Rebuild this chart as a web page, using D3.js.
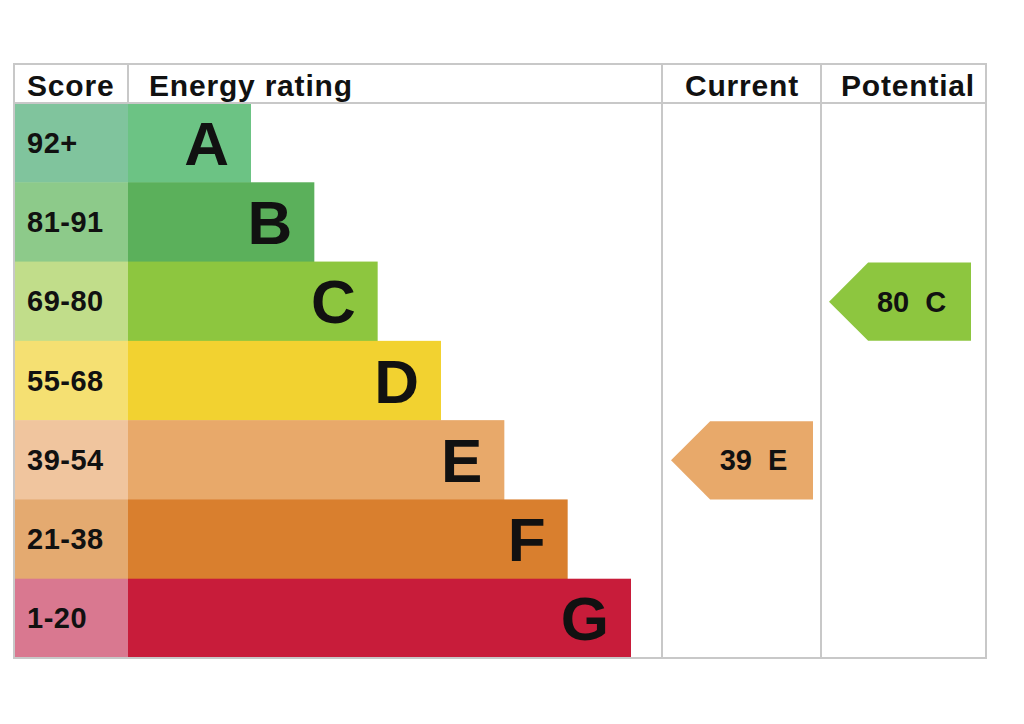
<!DOCTYPE html>
<html>
<head>
<meta charset="utf-8">
<script src="https://cdn.jsdelivr.net/npm/d3@7"></script>
<style>
  body { margin: 0; background: #fff; }
  text { font-family: "Liberation Sans", Arial, sans-serif; font-weight: bold; fill: #111; }
</style>
</head>
<body>
<script>
// Chart data
var ratings = ["A", "B", "C", "D", "E", "F", "G"];
var scoreLabels = ["92+", "81-91", "69-80", "55-68", "39-54", "21-38", "1-20"];
var scoreMins = [92, 81, 69, 55, 39, 21, 1];
var barColors = ["#6cc384", "#5bb05b", "#8dc63f", "#f2d230", "#e8a96a", "#d97f2e", "#c81c3a"];
var scoreColors = ["#80c49d", "#8dca8a", "#c1dd8a", "#f5e072", "#f0c59e", "#e4aa70", "#d97890"];
var currentScore = 39;
var potentialScore = 80;

// Chart params
var svgWidth = 1024;
var svgHeight = 724;

var box = { left: 14, top: 64, right: 986, bottom: 658 };
var headerBottom = 103;
var colScore = 128, colCurrent = 662, colPotential = 821;

var svg = d3.select("body")
    .append("svg")
    .attr("width", svgWidth)
    .attr("height", svgHeight);

// rows
var yScale = d3.scaleBand()
    .domain(ratings)
    .range([headerBottom, box.bottom])
    .paddingInner(0);

// bar right edge by rank
var xScale = d3.scaleLinear()
    .domain([0, ratings.length - 1])
    .range([251, 631]);

function bandFor(score) {
    var i = scoreMins.findIndex(m => score >= m);
    return ratings[i];
}

// score cells
svg.selectAll(".scoreCell")
    .data(ratings)
    .enter()
    .append("rect")
    .attr("x", box.left)
    .attr("y", d => yScale(d))
    .attr("width", colScore - box.left)
    .attr("height", yScale.bandwidth() + 0.5)
    .attr("fill", (d, i) => scoreColors[i]);

svg.selectAll(".scoreText")
    .data(scoreLabels)
    .enter()
    .append("text")
    .attr("x", 27)
    .attr("y", (d, i) => yScale(ratings[i]) + yScale.bandwidth() / 2 + 10)
    .attr("font-size", 29)
    .attr("letter-spacing", 0.5)
    .text(d => d);

// rating bars
svg.selectAll(".bar")
    .data(ratings)
    .enter()
    .append("rect")
    .attr("x", colScore)
    .attr("y", d => yScale(d))
    .attr("width", (d, i) => xScale(i) - colScore)
    .attr("height", yScale.bandwidth() + 0.5)
    .attr("fill", (d, i) => barColors[i]);

svg.selectAll(".barText")
    .data(ratings)
    .enter()
    .append("text")
    .attr("x", (d, i) => xScale(i) - 22)
    .attr("y", d => yScale(d) + yScale.bandwidth() / 2 + 22)
    .attr("text-anchor", "end")
    .attr("font-size", 62)
    .text(d => d);

// grid lines
var gridColor = "#c8c8c8";
svg.append("rect")
    .attr("x", box.left)
    .attr("y", box.top)
    .attr("width", box.right - box.left)
    .attr("height", box.bottom - box.top)
    .attr("fill", "none")
    .attr("stroke", gridColor)
    .attr("stroke-width", 2);

svg.append("line")
    .attr("x1", box.left).attr("x2", box.right)
    .attr("y1", headerBottom).attr("y2", headerBottom)
    .attr("stroke", gridColor).attr("stroke-width", 2);

[colScore, colCurrent, colPotential].forEach(function (x) {
    var bottom = x === colScore ? headerBottom : box.bottom;
    svg.append("line")
        .attr("x1", x).attr("x2", x)
        .attr("y1", box.top).attr("y2", bottom)
        .attr("stroke", gridColor).attr("stroke-width", 2);
});

// headers
var headers = [
    { text: "Score", x: 27, anchor: "start" },
    { text: "Energy rating", x: 149, anchor: "start" },
    { text: "Current", x: 742, anchor: "middle" },
    { text: "Potential", x: 908, anchor: "middle" }
];
svg.selectAll(".header")
    .data(headers)
    .enter()
    .append("text")
    .attr("x", d => d.x)
    .attr("y", 96)
    .attr("text-anchor", d => d.anchor)
    .attr("font-size", 30)
    .attr("letter-spacing", 0.8)
    .text(d => d.text);

// arrows for current / potential
function drawArrow(score, tipX, rightX) {
    var r = bandFor(score);
    var i = ratings.indexOf(r);
    var y0 = yScale(r) + 1;
    var h = yScale.bandwidth() - 1;
    var notch = h / 2;
    var pts = [
        [tipX, y0 + h / 2],
        [tipX + notch, y0],
        [rightX, y0],
        [rightX, y0 + h],
        [tipX + notch, y0 + h]
    ];
    svg.append("polygon")
        .attr("points", pts.map(p => p.join(",")).join(" "))
        .attr("fill", barColors[i]);
    svg.append("text")
        .attr("x", tipX + notch + (rightX - tipX - notch) / 2 - 8)
        .attr("y", y0 + h / 2 + 10)
        .attr("text-anchor", "middle")
        .attr("font-size", 29)
        .attr("xml:space", "preserve")
        .text(score + "  " + r);
}

drawArrow(currentScore, 671, 813);
drawArrow(potentialScore, 829, 971);
</script>
</body>
</html>
